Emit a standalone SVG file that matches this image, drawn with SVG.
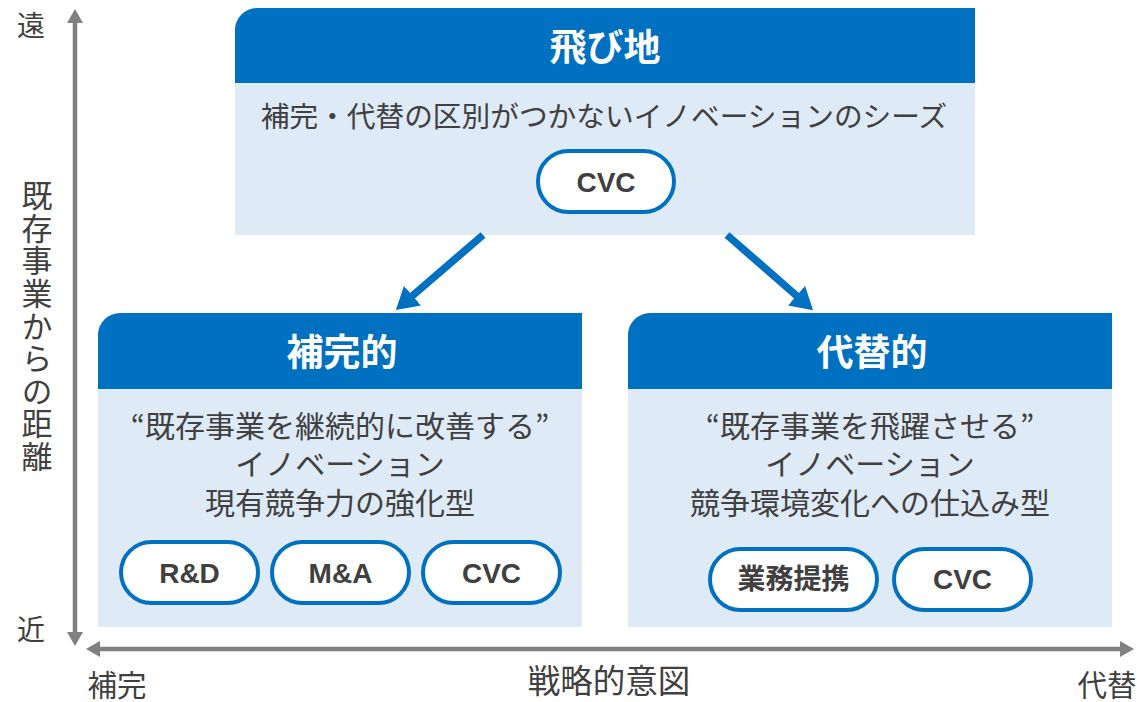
<svg xmlns="http://www.w3.org/2000/svg" width="1137" height="702" viewBox="0 0 1137 702">
<style>
.hdr{fill:#0070C0}
.body{fill:#DEEAF6}
.ttl{font-family:"Noto Sans CJK JP","Liberation Sans",sans-serif;font-weight:bold;font-size:37px;fill:#FFFFFF;text-anchor:middle}
.txt{font-family:"Noto Sans CJK JP","Liberation Sans",sans-serif;font-size:30px;fill:#404040;text-anchor:middle}
.pill{fill:#FFFFFF;stroke:#0070C0;stroke-width:4}
.ptx{font-family:"Liberation Sans","Noto Sans CJK JP",sans-serif;font-weight:bold;font-size:28px;fill:#404040;text-anchor:middle}
.ptj{font-family:"Noto Sans CJK JP",sans-serif;font-weight:bold;font-size:28px;fill:#404040;text-anchor:middle}
.ax{font-family:"Noto Sans CJK JP","Liberation Sans",sans-serif;font-size:28px;fill:#404040}
.axl{stroke:#808080;stroke-width:4.5;fill:none}
.con{stroke:#0070C0;stroke-width:7.5;fill:none}
</style>
<defs>
<marker id="ga" viewBox="0 0 14 16" refX="1" refY="8" markerWidth="14" markerHeight="16" markerUnits="userSpaceOnUse" orient="auto-start-reverse">
<path d="M0,0 L14,8 L0,16 Z" fill="#808080"/>
</marker>
<marker id="ba" viewBox="0 0 22 26" refX="2" refY="13" markerWidth="22" markerHeight="26" markerUnits="userSpaceOnUse" orient="auto">
<path d="M0,0 L22,13 L0,26 Z" fill="#0070C0"/>
</marker>
</defs>

<g id="axes">
<line class="axl" x1="75" y1="22" x2="75" y2="633" marker-start="url(#ga)" marker-end="url(#ga)"/>
<line class="axl" x1="99" y1="649" x2="1121" y2="649" marker-start="url(#ga)" marker-end="url(#ga)"/>
<text class="ax" x="31" y="36" text-anchor="middle">遠</text>
<text class="ax" x="31" y="640" text-anchor="middle">近</text>
<text class="ax" x="117" y="696" text-anchor="middle" style="font-size:29.5px">補完</text>
<text class="ax" x="1107" y="696" text-anchor="middle" style="font-size:29.5px">代替</text>
<text class="ax" x="609" y="693" text-anchor="middle" style="font-size:32.5px">戦略的意図</text>
<text class="ax" x="37" y="180" style="font-size:31px;writing-mode:vertical-rl;letter-spacing:1.6px">既存事業からの距離</text>
</g>

<g id="node-tobichi">
<path class="hdr" d="M235,30 A22,22 0 0 1 257,8 H975 V83 H235 Z"/>
<rect class="body" x="235" y="83" width="740" height="152"/>
<text class="ttl" x="605" y="61">飛び地</text>
<text class="txt" x="604" y="127" style="font-size:28.7px">補完・代替の区別がつかないイノベーションのシーズ</text>
<rect class="pill" x="538" y="151" width="136" height="61" rx="30.5"/>
<text class="ptx" x="606" y="192">CVC</text>
</g>

<g id="node-hokan">
<path class="hdr" d="M98,335 A22,22 0 0 1 120,313 H582 V389 H98 Z"/>
<rect class="body" x="98" y="389" width="484" height="238"/>
<text class="ttl" x="342" y="366">補完的</text>
<text class="txt" x="340" y="437">“既存事業を継続的に改善する”</text>
<text class="txt" x="340" y="475">イノベーション</text>
<text class="txt" x="340" y="514">現有競争力の強化型</text>
<rect class="pill" x="121" y="542" width="137" height="61" rx="30.5"/>
<text class="ptx" x="189.5" y="583">R&amp;D</text>
<rect class="pill" x="272" y="542" width="137" height="61" rx="30.5"/>
<text class="ptx" x="340.5" y="583">M&amp;A</text>
<rect class="pill" x="423" y="542" width="137" height="61" rx="30.5"/>
<text class="ptx" x="491.5" y="583">CVC</text>
</g>

<g id="node-daitai">
<path class="hdr" d="M628,335 A22,22 0 0 1 650,313 H1112 V389 H628 Z"/>
<rect class="body" x="628" y="389" width="484" height="238"/>
<text class="ttl" x="872" y="366">代替的</text>
<text class="txt" x="870" y="437">“既存事業を飛躍させる”</text>
<text class="txt" x="870" y="475">イノベーション</text>
<text class="txt" x="870" y="514">競争環境変化への仕込み型</text>
<rect class="pill" x="710" y="549" width="167" height="61" rx="30.5"/>
<text class="ptj" x="793.5" y="589">業務提携</text>
<rect class="pill" x="894" y="549" width="137" height="61" rx="30.5"/>
<text class="ptx" x="962.5" y="589">CVC</text>
</g>

<g id="connectors">
<line class="con" x1="483" y1="235" x2="411" y2="297" marker-end="url(#ba)"/>
<line class="con" x1="727" y1="235" x2="798" y2="297" marker-end="url(#ba)"/>
</g>
</svg>
